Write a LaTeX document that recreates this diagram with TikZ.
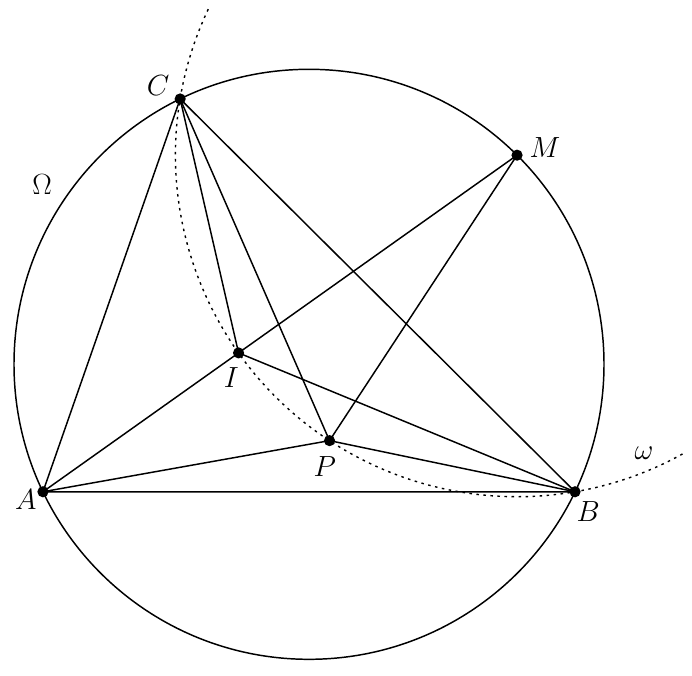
\documentclass[tikz,border=0pt]{standalone}
\usetikzlibrary{calc}

\tikzset{
  dot/.style={fill=black},
  arcdots/.style={line width=1pt, dash pattern=on 1.8pt off 3.2pt},
  lbl/.style={font=\huge, inner sep=0pt}
}

\begin{document}
\begin{tikzpicture}[line width=1.05pt]
        \useasboundingbox (-7.725,-7.7675) rectangle (9.575,9.1075);

        % Circumcircle Omega
        \def\R{7.375}
        \coordinate (O) at (0, 0);
        \coordinate (A) at (205.6:\R);
        \coordinate (B) at (334.4:\R);
        \coordinate (C) at (115.9:\R);
        \coordinate (M) at (45.15:\R);
        \draw (O) circle (\R);

        % Circle omega centred at M through B and C
        \def\r{8.539}
        \coordinate (I) at ($(M)!\r cm!(A)$);
        \coordinate (P) at ($(M)+(236.7:\r)$);
        \coordinate (omega-start) at ($(M)+(154.7:\r)$);
        \draw[arcdots] (omega-start) arc[start angle=154.7, end angle=299, radius=\r];

        % Triangle
        \draw (A) -- (B) -- (C) -- cycle;
        \draw (A) -- (M);

        % Segments through I and P
        \draw (C) -- (I) -- (B);
        \draw (A) -- (P) -- (B);
        \draw (C) -- (P) -- (M);

        % Points
        \foreach \pt in {A, B, C, M, I, P} {
            \fill[dot] (\pt) circle (0.14);
        }

        % Labels
        \node[lbl] (label-A) at ($(A)+(-0.43,-0.2)$) {$A$};
        \node[lbl] (label-B) at ($(B)+(0.33,-0.5)$) {$B$};
        \node[lbl] (label-C) at ($(C)+(-0.55,0.34)$) {$C$};
        \node[lbl] (label-M) at ($(M)+(0.7,0.2)$) {$M$};
        \node[lbl] (label-I) at ($(I)+(-0.18,-0.62)$) {$I$};
        \node[lbl] (label-P) at ($(P)+(-0.12,-0.65)$) {$P$};
        \node[lbl] (label-Omega) at (-6.675, 4.4825) {$\Omega$};
        \node[lbl] (label-omega) at (8.375, -2.232) {$\omega$};
\end{tikzpicture}
\end{document}
